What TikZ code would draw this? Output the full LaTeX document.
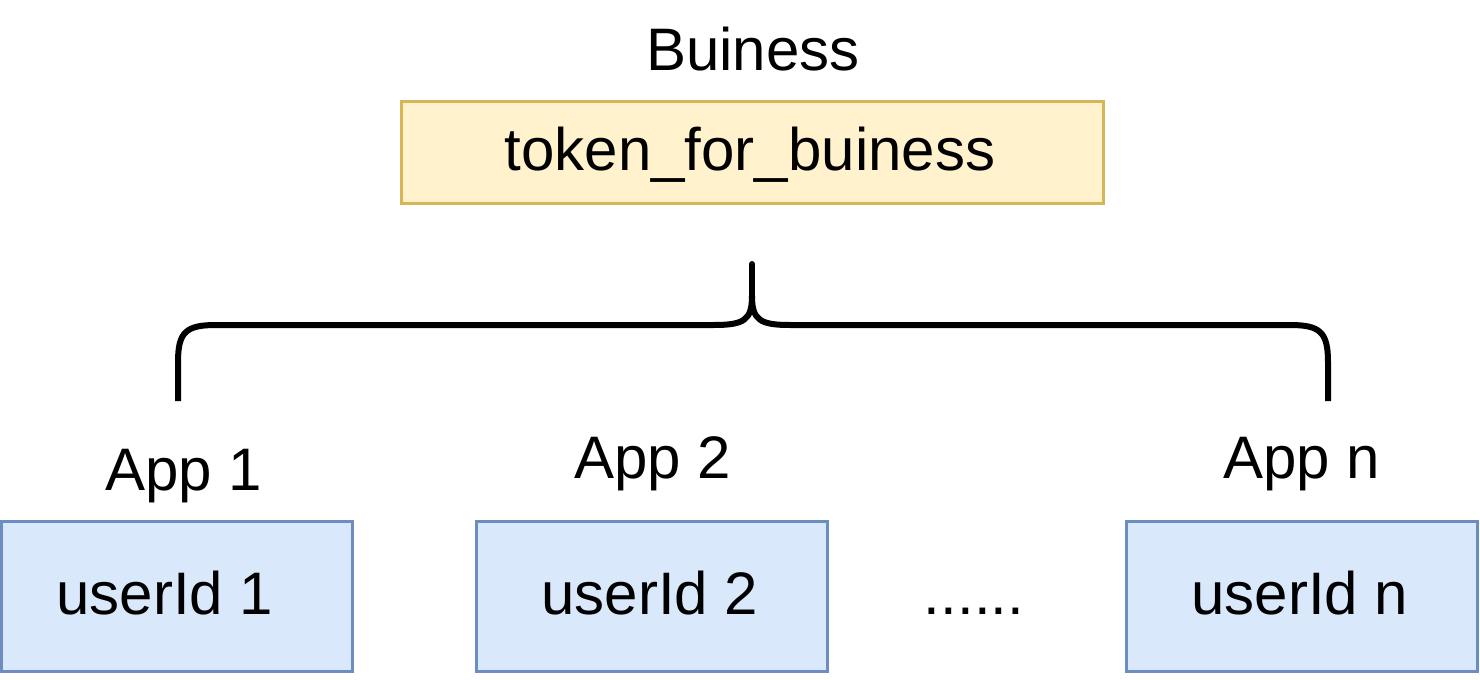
\documentclass[tikz,border=0pt]{standalone}
\usepackage{fontspec}
\setmainfont{Liberation Sans}
\definecolor{yfill}{HTML}{FFF2CC}
\definecolor{ydraw}{HTML}{D6B656}
\definecolor{bfill}{HTML}{DAE8FC}
\definecolor{bdraw}{HTML}{6C8EBF}
\begin{document}
\begin{tikzpicture}[x=0.5pt,y=-0.5pt,
  lbl/.style={font=\fontsize{30}{36}\selectfont, anchor=base, inner sep=0pt},
  ybox/.style={draw=ydraw, fill=yfill, line width=1.5pt, minimum width=351pt, minimum height=51pt, inner sep=0pt},
  bbox/.style={draw=bdraw, fill=bfill, line width=1.5pt, minimum width=175.5pt, minimum height=75pt, inner sep=0pt},
  brace/.style={line width=3pt}]
\useasboundingbox (0,0) rectangle (1480,680);
\node[ybox] (tok) at (752,152) {};
\node[lbl] (toktxt) at (750,170) {token\_for\_buiness};
\node[lbl] (bus) at (753,70) {Buiness};
\node[bbox] (u1) at (177,596) {};
\node[bbox] (u2) at (652,596) {};
\node[bbox] (un) at (1302,596) {};
\node[lbl] (u1t) at (165,614) {userId 1};
\node[lbl] (u2t) at (650,614) {userId 2};
\node[lbl] (unt) at (1300,614) {userId n};
\node[lbl] (dots) at (974,614) {......};
\node[lbl] (a1) at (184,490) {App 1};
\node[lbl] (a2) at (653,478) {App 2};
\node[lbl] (an) at (1302,478) {App n};
\coordinate (bl) at (178,401);
\coordinate (br) at (1328,401);
\coordinate (bt) at (752,264);
\draw[brace] (bl) -- (178,362) .. controls (178,332) and (186,325) .. (216,325)
  -- (714,325) .. controls (744,325) and (752,320) .. (752,296);
\draw[brace] (br) -- (1328,362) .. controls (1328,332) and (1320,325) .. (1290,325)
  -- (790,325) .. controls (760,325) and (752,320) .. (752,296);
\draw[brace, line cap=round] (752,298) -- (bt);
\end{tikzpicture}
\end{document}
